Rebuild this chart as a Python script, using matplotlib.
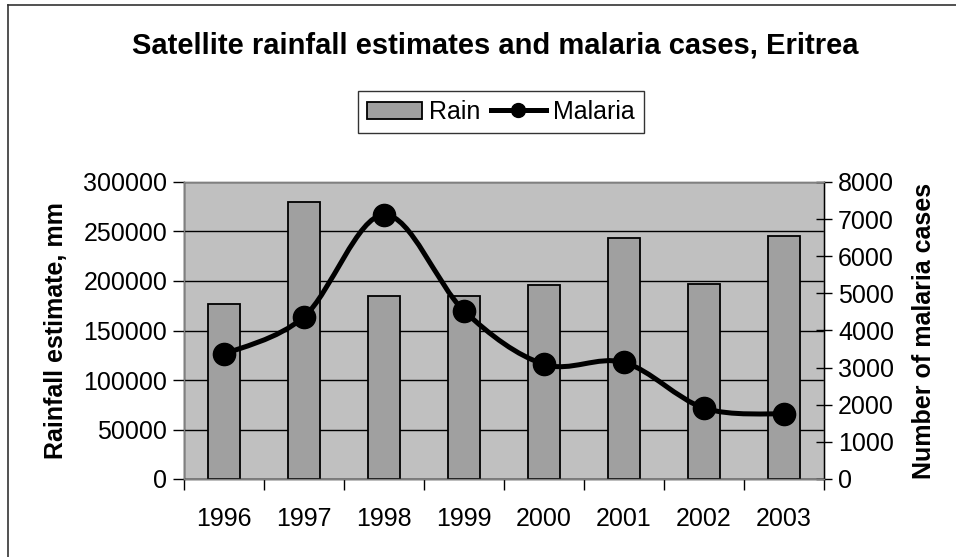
import numpy as np
import matplotlib
matplotlib.use('Agg')
import matplotlib.pyplot as plt
from matplotlib.path import Path
from matplotlib.patches import PathPatch, Patch
from matplotlib.lines import Line2D

plt.rcParams['font.family'] = ['Liberation Sans', 'DejaVu Sans']

# Datos
years = ['1996', '1997', '1998', '1999', '2000', '2001', '2002', '2003']
rain = [177000, 280000, 185000, 185000, 195500, 243500, 197000, 245500]
malaria = [3360, 4370, 7120, 4530, 3090, 3140, 1910, 1750]

W, H = 956, 557
fig = plt.figure(figsize=(W / 100, H / 100), dpi=100)

ax = fig.add_axes([184 / W, 1 - 479 / H, (824 - 184) / W, (479 - 182) / H])
ax2 = ax.twinx()
ax.set_facecolor('#c0c0c0')

x = np.arange(len(years))
ax.bar(x, rain, width=0.4, color='#a0a0a0', edgecolor='black', linewidth=1.3, zorder=3)
ax.set_ylim(0, 300000)
ax.set_xlim(-0.5, len(years) - 0.5)
ax.set_yticks(np.arange(0, 300001, 50000))
ax.yaxis.grid(True, color='black', linewidth=1)
ax.set_axisbelow(True)

# Curva suavizada estilo Excel (Bezier tipo Catmull-Rom)
pts = np.column_stack([x, malaria]).astype(float)
verts = [pts[0]]
codes = [Path.MOVETO]
n = len(pts)
for i in range(n - 1):
    p0 = pts[max(i - 1, 0)]
    p1 = pts[i]
    p2 = pts[i + 1]
    p3 = pts[min(i + 2, n - 1)]
    verts += [p1 + (p2 - p0) / 6, p2 - (p3 - p1) / 6, p2]
    codes += [Path.CURVE4] * 3
ax2.add_patch(PathPatch(Path(verts, codes), facecolor='none', edgecolor='black',
                        linewidth=3.6, zorder=4))
ax2.plot(x, malaria, 'o', color='black', markersize=16, zorder=5)
ax2.set_ylim(0, 8000)
ax2.set_yticks(np.arange(0, 8001, 1000))

# Ejes y marcas
ax.set_xticks(np.arange(-0.5, len(years), 1), minor=False)
ax.set_xticklabels([])
ax.set_xticks(x, minor=True)
ax.set_xticklabels(years, minor=True)
ax.tick_params(axis='x', which='major', direction='out', length=8, width=1, color='black')
ax.tick_params(axis='x', which='minor', length=0, pad=20, labelsize=18)
ax.tick_params(axis='y', direction='out', length=8, width=1, labelsize=18, pad=4)
ax2.tick_params(axis='y', direction='inout', length=12, width=1, labelsize=18, pad=4)
for a in (ax, ax2):
    for s in a.spines.values():
        s.set_color('#808080')
        s.set_linewidth(1)
ax.spines['left'].set_color('black')
ax2.spines['right'].set_color('black')
ax.spines['bottom'].set_color('black')

ax.set_ylabel('Rainfall estimate, mm', fontsize=18, fontweight='bold', labelpad=11)
ax2.set_ylabel('Number of malaria cases', fontsize=18, fontweight='bold', labelpad=13)

fig.text(495 / W, 1 - 45 / H, 'Satellite rainfall estimates and malaria cases, Eritrea',
         ha='center', va='center', fontsize=21, fontweight='bold')

handles = [Patch(facecolor='#a0a0a0', edgecolor='black', linewidth=1.3),
           Line2D([], [], color='black', linewidth=3.6, marker='o', markersize=10)]
leg = fig.legend(handles, ['Rain', 'Malaria'], loc='center', ncol=2,
                 bbox_to_anchor=(501 / W, 1 - 112 / H), fontsize=18, frameon=True,
                 fancybox=False, edgecolor='black', handlelength=2.2, handletextpad=0.3,
                 columnspacing=0.4, borderpad=0.35)
leg.get_frame().set_linewidth(1)

# Marco del grafico (izquierda y arriba)
fig.add_artist(Line2D([8 / W, 8 / W], [0, 1 - 5 / H], color='#333333', linewidth=1.2))
fig.add_artist(Line2D([8 / W, 1], [1 - 5 / H, 1 - 5 / H], color='#333333', linewidth=1.2))

fig.savefig('out.png', dpi=100)
